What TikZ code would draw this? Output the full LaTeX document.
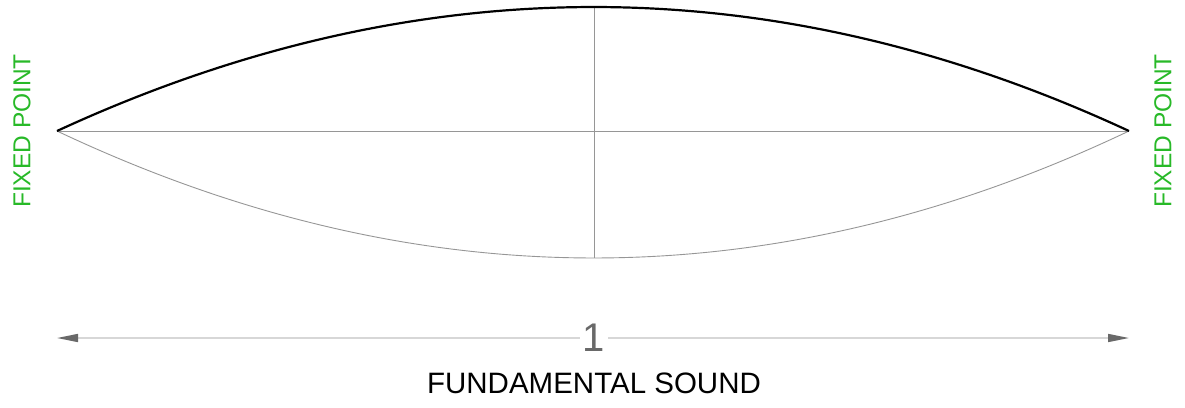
\documentclass[tikz,border=0pt]{standalone}
\usepackage{fontspec}
\setmainfont{Liberation Sans}
\usetikzlibrary{arrows.meta}
\definecolor{fixgreen}{RGB}{40,185,40}
\definecolor{dimline}{RGB}{215,215,215}
\definecolor{dimtip}{RGB}{105,105,105}
\definecolor{thingray}{RGB}{150,150,150}
\begin{document}
\begin{tikzpicture}[x=1pt,y=-1pt,
  thick curve/.style={line width=2.2pt,black},
  thin curve/.style={line width=0.9pt,thingray},
  axis line/.style={line width=0.9pt,thingray},
  dim/.style={line width=1.6pt,dimline,{Triangle[length=21pt,width=8pt,color=dimtip]}-{Triangle[length=21pt,width=8pt,color=dimtip]}},
  fixlabel/.style={font=\fontsize{24.5}{28}\selectfont,text=fixgreen,rotate=90,inner sep=0pt},
  title/.style={font=\fontsize{29.5}{32}\selectfont,text=black,inner sep=0pt}]
\useasboundingbox (0,0) rectangle (1185,407);
\coordinate (L) at (57,131);
\coordinate (R) at (1129,131);
\coordinate (T) at (594,7);
\coordinate (B) at (594,258);
\coordinate (DL) at (57,338);
\coordinate (DR) at (1129,338);
% axes
\draw[axis line] (L) -- (R);
\draw[axis line] (T) -- (B);
% curves (quadratic parabolas as cubic Beziers)
\draw[thin curve] (L) .. controls (415,300.3) and (773,300.3) .. (R);
\draw[thick curve] (L) .. controls (415,-34.3) and (773,-34.3) .. (R);
% dimension
\draw[dim] (DL) -- (DR);
\node[fill=white,inner sep=3pt,font=\fontsize{40}{44}\selectfont,text=dimtip] (one) at (594,338) {1};
\node[title] (ttl) at (594,383) {FUNDAMENTAL SOUND};
\node[fixlabel] (fl) at (22,131) {FIXED POINT};
\node[fixlabel] (fr) at (1163,131) {FIXED POINT};
\end{tikzpicture}
\end{document}
